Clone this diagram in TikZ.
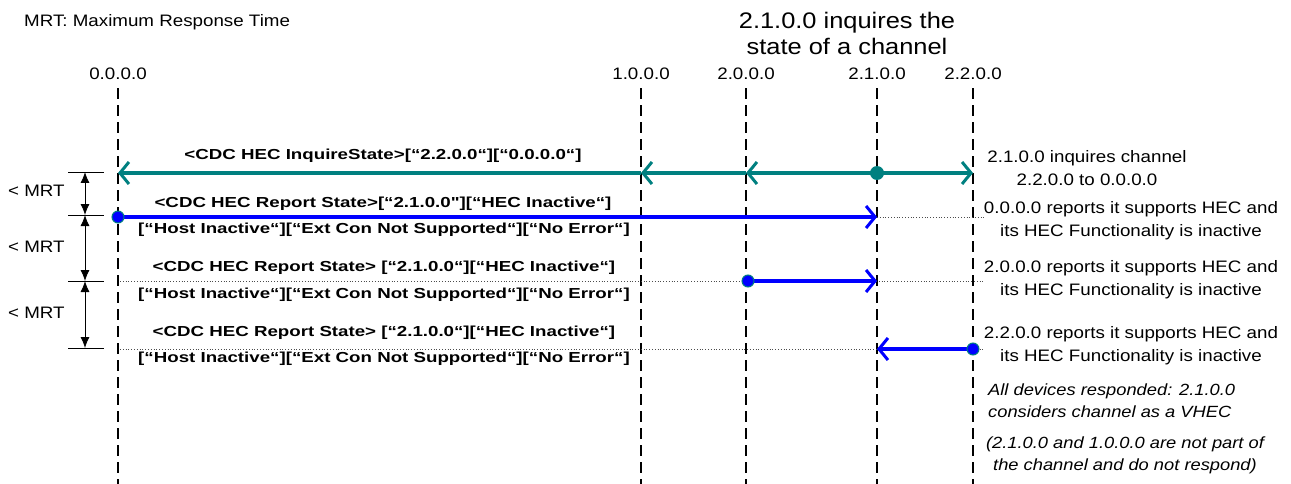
\documentclass[tikz,border=0pt]{standalone}
\usepackage{fontspec}
\setmainfont{Liberation Sans}[FakeStretch=1.13]
\newfontfamily\msgfont{Liberation Sans}[FakeStretch=1.29]
\usetikzlibrary{arrows.meta}
\definecolor{tealc}{RGB}{0,128,128}
\definecolor{bluec}{RGB}{0,0,255}
\begin{document}
\begin{tikzpicture}[x=1pt,y=-1pt,
  lifeline/.style={draw=black,line width=2.2pt,dash pattern=on 11pt off 6pt},
  lbl/.style={font=\fontsize{16.6}{18}\selectfont,inner sep=0pt,anchor=center},
  msg/.style={font=\msgfont\bfseries\fontsize{14.5}{17}\selectfont,inner sep=0pt,anchor=center},
  note/.style={font=\fontsize{16.6}{23}\selectfont,align=center,inner sep=0pt},
  inote/.style={font=\itshape\fontsize{16.2}{22}\selectfont,inner sep=0pt},
  barb/.style={-{Straight Barb[length=9pt,width=22pt,line width=3pt]}},
  inq/.style={draw=tealc,line width=3.5pt,barb},
  rep/.style={draw=bluec,line width=3.5pt,barb},
  dotl/.style={draw=black!70,dotted,line width=0.8pt},
  mrtline/.style={draw=black,line width=0.8pt},
  mrtarrow/.style={draw=black,line width=0.8pt,{Latex[length=11pt,width=9pt]}-{Latex[length=11pt,width=9pt]}},
  mrtlbl/.style={font=\fontsize{16.6}{18}\selectfont,anchor=west,inner sep=0pt},
  bdot/.style={circle,fill=bluec,draw=tealc,line width=1pt,minimum size=12pt,inner sep=0pt},
  tdot/.style={circle,fill=tealc,minimum size=14pt,inner sep=0pt}
]
\useasboundingbox (0,0) rectangle (1291,484);

% title texts
\node[font=\fontsize{16.6}{18}\selectfont,anchor=west,inner sep=0pt] (legend) at (24,22) {MRT: Maximum Response Time};
\node[font=\fontsize{22.5}{26}\selectfont,align=center,inner sep=0pt] (title) at (847,33) {2.1.0.0 inquires the\\state of a channel};

% lifeline labels
\node[lbl] (L00) at (118,74) {0.0.0.0};
\node[lbl] (L10) at (641,74) {1.0.0.0};
\node[lbl] (L20) at (746,74) {2.0.0.0};
\node[lbl] (L21) at (877,74) {2.1.0.0};
\node[lbl] (L22) at (973,74) {2.2.0.0};

% lifeline ends
\coordinate (B00) at (118,484);
\coordinate (B10) at (641,484);
\coordinate (B20) at (746,484);
\coordinate (B21) at (877,484);
\coordinate (B22) at (973,484);
\foreach \n in {00,10,20,21,22}
  \draw[lifeline] ([yshift=-8pt]L\n.south) -- (B\n);

% message points
\coordinate (a00) at (118,173);
\coordinate (a10) at (641,173);
\coordinate (a20) at (746,173);
\coordinate (a21) at (877,173);
\coordinate (a22) at (973,173);

\coordinate (r1s) at (118,217);
\coordinate (r1e) at (877,217);
\coordinate (r1d) at (985,217);

\coordinate (r2l) at (120,281);
\coordinate (r2s) at (748,281);
\coordinate (r2e) at (877,281);
\coordinate (r2d) at (985,281);

\coordinate (r3l) at (120,349);
\coordinate (r3s) at (973,349);
\coordinate (r3e) at (877,349);
\coordinate (r3d) at (985,349);

% dotted guide lines
\draw[dotl] (r1e) -- (r1d);
\draw[dotl] (r2l) -- (r2d);
\draw[dotl] (r3l) -- (r3d);

% inquire message (teal)
\draw[inq] (a21) -- (a22);
\draw[inq] (a21) -- (a20);
\draw[inq] (a20) -- (a10);
\draw[inq] (a10) -- (a00);
\node[tdot] (d21) at (a21) {};

% report messages (blue)
\draw[rep] (r1s) -- (r1e);
\node[bdot] (d1) at (r1s) {};
\draw[rep] (r2s) -- (r2e);
\node[bdot] (d2) at (r2s) {};
\draw[rep] (r3s) -- (r3e);
\node[bdot] (d3) at (r3s) {};

% message labels
\node[msg] (m1) at (383,156) {<CDC HEC InquireState>[“2.2.0.0“][“0.0.0.0“]};
\node[msg] (m2a) at (383,204) {<CDC HEC Report State>[“2.1.0.0"][“HEC Inactive“]};
\node[msg] (m2b) at (384,230) {[“Host Inactive“][“Ext Con Not Supported“][“No Error“]};
\node[msg] (m3a) at (384,268) {<CDC HEC Report State> [“2.1.0.0“][“HEC Inactive“]};
\node[msg] (m3b) at (384,295) {[“Host Inactive“][“Ext Con Not Supported“][“No Error“]};
\node[msg] (m4a) at (384,333) {<CDC HEC Report State> [“2.1.0.0“][“HEC Inactive“]};
\node[msg] (m4b) at (384,359) {[“Host Inactive“][“Ext Con Not Supported“][“No Error“]};

% right annotations
\node[note] (n1) at (1087,168) {2.1.0.0 inquires channel\\2.2.0.0 to 0.0.0.0};
\node[note] (n2) at (1131,221) {0.0.0.0 reports it supports HEC and\\its HEC Functionality is inactive};
\node[note] (n3) at (1131,280) {2.0.0.0 reports it supports HEC and\\its HEC Functionality is inactive};
\node[note] (n4) at (1131,346) {2.2.0.0 reports it supports HEC and\\its HEC Functionality is inactive};
\node[inote,align=left,anchor=west] (n5) at (988,401) {All devices responded: 2.1.0.0\\considers channel as a VHEC};
\node[inote,align=center] (n6) at (1125,455) {(2.1.0.0 and 1.0.0.0 are not part of\\the channel and do not respond)};

% MRT brackets
\coordinate (t1l) at (68,172); \coordinate (t1r) at (104,172);
\coordinate (t2l) at (68,215); \coordinate (t2r) at (104,215);
\coordinate (t3l) at (68,281); \coordinate (t3r) at (104,281);
\coordinate (t4l) at (68,348); \coordinate (t4r) at (104,348);
\draw[mrtline] (t1l) -- (t1r);
\draw[mrtline] (t2l) -- (t2r);
\draw[mrtline] (t3l) -- (t3r);
\draw[mrtline] (t4l) -- (t4r);
\coordinate (k1) at (85,172); \coordinate (k2) at (85,215);
\coordinate (k3) at (85,281); \coordinate (k4) at (85,348);
\draw[mrtarrow] (k1) -- (k2);
\draw[mrtarrow] (k2) -- (k3);
\draw[mrtarrow] (k3) -- (k4);
\node[mrtlbl] (mrt1) at (8,191) {< MRT};
\node[mrtlbl] (mrt2) at (8,247) {< MRT};
\node[mrtlbl] (mrt3) at (8,313) {< MRT};
\end{tikzpicture}
\end{document}
